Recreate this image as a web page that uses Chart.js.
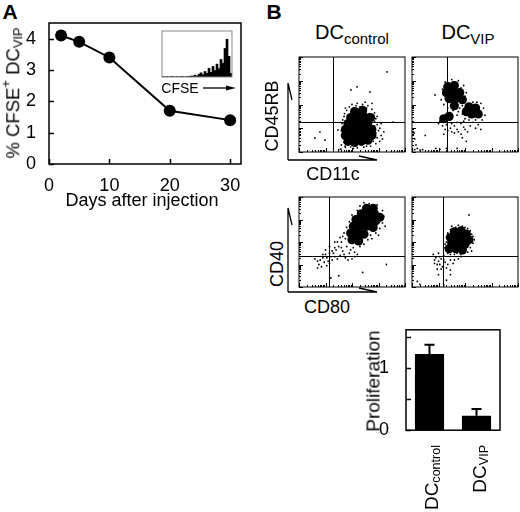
<!DOCTYPE html>
<html>
<head>
<meta charset="utf-8">
<script src="https://cdn.jsdelivr.net/npm/chart.js@4.4.1/dist/chart.umd.min.js"></script>
<style>
body { margin: 0; background: #fff; }
#fig { position: relative; width: 520px; height: 512px; overflow: hidden; font-family: 'Liberation Sans', Arial, Helvetica, sans-serif; color: #000; }
#fig canvas { position: absolute; }
.t { position: absolute; white-space: nowrap; line-height: 1; transform: translate(-50%, -50%); }
.v { position: absolute; white-space: nowrap; line-height: 1; writing-mode: vertical-rl; transform: translate(-50%, -50%) rotate(180deg); }
.vb { position: absolute; white-space: nowrap; line-height: 1; writing-mode: vertical-rl; transform: translate(-50%, 0) rotate(180deg); }
.lbl { font-weight: bold; font-size: 21px; }
sub, sup { line-height: 0; }
svg { position: absolute; left: 0; top: 0; }
</style>
</head>
<body>
<div id="fig">
  <div class="t lbl" style="left:10px;top:11px">A</div>
  <div class="t lbl" style="left:274px;top:11px">B</div>

  <canvas id="chartA" width="260" height="210" style="left:0;top:0"></canvas>
  <canvas id="chartInset" width="72" height="48" style="left:161px;top:30px"></canvas>
  <div class="v" style="left:14px;top:93px;font-size:18.5px">% CFSE<sup style="font-size:0.7em">+</sup> DC<sub style="font-size:0.7em">VIP</sub></div>
  <div class="t" style="left:142px;top:200px;font-size:18px">Days after injection</div>
  <div class="t" style="left:180px;top:88px;font-size:14px">CFSE</div>

  <div class="t" style="left:352px;top:32px;font-size:20px">DC<sub style="font-size:0.75em">control</sub></div>
  <div class="t" style="left:468px;top:32px;font-size:20px">DC<sub style="font-size:0.75em">VIP</sub></div>

  <canvas id="dotTL" width="108" height="97" style="left:298px;top:56px"></canvas>
  <canvas id="dotTR" width="108" height="97" style="left:411px;top:56px"></canvas>
  <canvas id="dotBL" width="108" height="92" style="left:298px;top:196px"></canvas>
  <canvas id="dotBR" width="108" height="92" style="left:411px;top:196px"></canvas>
  <div class="v" style="left:272px;top:116px;font-size:18px">CD45RB</div>
  <div class="t" style="left:333px;top:174px;font-size:18px">CD11c</div>
  <div class="v" style="left:277px;top:264px;font-size:18px">CD40</div>
  <div class="t" style="left:327px;top:307px;font-size:18px">CD80</div>

  <canvas id="chartBar" width="150" height="140" style="left:360px;top:310px"></canvas>
  <div class="v" style="left:373px;top:381px;font-size:19px">Proliferation</div>
  <div class="vb" style="left:431px;top:445px;font-size:19px">DC<sub style="font-size:0.66em">control</sub></div>
  <div class="vb" style="left:479px;top:445px;font-size:19px">DC<sub style="font-size:0.66em">VIP</sub></div>

  <svg width="520" height="512" viewBox="0 0 520 512">
    <g stroke="#000" stroke-width="1.3" fill="none">
      <path d="M288 160 V83 L292 100"/>
      <path d="M288 160 H377 L359 156"/>
      <path d="M288 292 V208 L292 225"/>
      <path d="M288 292 H377 L359 288"/>
      <path d="M203 88 H232"/>
    </g>
    <path d="M236 88 L226 85.5 L226 90.5 Z" fill="#000"/>
  </svg>
</div>

<script>
// ---- panel A: CFSE+ DC-VIP over time ----
const daysA = [2, 5, 10, 20, 30];
const cfsePct = [4.1, 3.9, 3.4, 1.7, 1.4];
const xTicksA = [0, 10, 20, 30];
const yTicksA = [0, 1, 2, 3, 4];

// inset histogram (CFSE dilution peaks), % of inset height
const cfseCounts = [1, 0, 1, 0, 1, 1, 0, 1, 0, 1, 1, 0, 1, 1, 2, 2, 4, 2, 6, 9, 5, 12, 8, 19, 10, 23, 14, 28, 18, 38, 30, 62, 82, 45, 8];

// ---- panel B: dot plots, log10 units (decades 0..4) ----
const gateCD45Ctrl = [1.28, 1.26];
const gateCD45Vip = [1.32, 1.26];
const gateCD40Ctrl = [1.12, 1.38];
const gateCD40Vip = [1.17, 1.38];

const cd45CtrlCore = [[1.85,0.45],[2.1,0.4],[2.35,0.45],[2.6,0.5],[1.75,0.7],[2.0,0.7],[2.25,0.7],[2.5,0.75],[2.75,0.7],
  [1.75,0.95],[2.0,0.95],[2.25,0.95],[2.5,1.0],[2.75,0.95],[1.85,1.2],[2.1,1.2],[2.35,1.25],[2.6,1.25],
  [1.95,1.45],[2.2,1.5],[2.45,1.5],[2.7,1.45],[2.1,1.7],[2.4,1.75]];
const cd45CtrlDots = [[1.6,0.3],[1.65,0.6],[1.6,0.9],[1.62,1.2],[1.7,1.5],[1.8,1.75],[1.9,1.9],[2.0,2.0],[2.2,2.05],[2.4,2.0],
  [2.6,1.95],[2.75,1.8],[2.85,1.65],[2.9,1.4],[2.95,1.15],[3.0,0.9],[3.1,0.7],[3.15,0.55],[2.9,0.35],[2.7,0.25],
  [2.45,0.2],[2.2,0.18],[1.95,0.22],[1.75,0.2],[2.3,1.9],[2.55,1.85],[2.85,1.1],[3.05,1.0],[2.95,0.6],[1.68,1.05],
  [1.7,0.4],[3.32,3.37],[2.19,2.74],[2.68,2.53],[1.96,2.61],[0.79,0.84],[0.6,0.59],[0.98,0.5],[1.74,0.25],[1.47,0.93],
  [3.55,1.26],[1.5,0.1],[1.58,0.12],[1.65,1.35],[1.72,1.62],[2.05,1.85],[2.5,1.7],[2.65,1.62],[2.85,1.3],[2.9,0.8],
  [3.05,0.45],[2.8,0.45],[2.55,0.25],[2.05,0.15],[1.85,0.3],[1.68,0.78],[2.95,1.5],[3.1,1.2],[2.75,2.05],[1.75,1.85],
  [2.15,1.95],[2.5,2.1],[3.2,0.85]];

const cd45VipCore = [[1.35,2.75],[1.6,2.8],[1.3,2.5],[1.55,2.5],[1.8,2.5],[1.4,2.25],[1.65,2.25],[1.9,2.2],
  [2.15,1.9],[2.4,1.85],[2.25,1.6],[2.5,1.6],[2.05,1.7],[1.6,1.95],[1.2,1.4],[1.4,1.5]];
const cd45VipDots = [[1.25,2.95],[1.5,3.05],[1.75,3.0],[1.95,2.8],[2.05,2.5],[1.15,2.65],[1.1,2.2],[1.2,2.0],[1.35,1.85],[1.8,1.85],
  [1.9,1.6],[1.7,1.55],[2.0,2.15],[2.3,2.1],[2.6,2.05],[2.7,1.85],[2.75,1.55],[2.65,1.35],[2.4,1.35],[2.15,1.35],
  [1.95,1.3],[1.7,1.25],[1.5,1.2],[1.3,1.15],[1.15,1.1],[1.05,1.3],[1.45,1.0],[1.7,0.95],[1.95,1.05],[2.2,1.1],
  [2.5,1.15],[1.6,0.8],[1.85,0.75],[2.1,0.85],[1.35,0.9],[2.6,0.95],[1.0,1.2],[0.87,2.4],[0.1,0.1],[0.2,0.15],
  [0.3,0.08],[0.15,0.3],[0.1,0.55],[0.08,0.8],[0.5,0.7],[0.9,0.15],[1.05,0.12],[1.3,0.15],[1.7,0.15],[0.4,0.1],[2.05,0.45],
  [1.55,2.95],[1.2,2.4],[1.85,2.7],[2.0,2.35],[1.55,1.75],[1.75,1.7],[1.9,1.95],[2.1,2.0],[2.45,2.1],[2.55,1.75],
  [2.35,1.5],[2.0,1.4],[1.85,1.2],[1.6,1.1],[1.3,1.3],[1.1,1.5],[1.45,1.35],[2.3,1.25],[2.4,1.0],[1.25,0.95],
  [1.5,0.85],[1.75,0.85],[2.0,0.95],[1.9,0.6],[1.2,0.75]];

const cd40CtrlCore = [[2.55,3.5],[2.8,3.5],[2.35,3.25],[2.6,3.25],[2.85,3.25],[3.05,3.1],[2.15,3.0],[2.4,3.0],[2.65,3.0],
  [2.9,2.95],[2.05,2.7],[2.3,2.7],[2.55,2.7],[2.8,2.65],[1.95,2.4],[2.2,2.4],[2.45,2.35],[2.0,2.1],[2.25,2.05]];
const cd40CtrlDots = [[2.3,3.6],[2.65,3.7],[2.95,3.65],[3.15,3.4],[3.2,3.15],[3.15,2.85],[3.05,2.6],[2.9,2.4],[2.7,2.3],[2.6,2.1],
  [2.45,1.9],[2.3,1.8],[2.0,3.2],[1.9,2.9],[1.8,2.65],[1.7,2.4],[1.75,2.15],[1.6,2.0],[1.5,1.8],[1.8,1.8],
  [2.05,1.75],[1.65,1.6],[1.4,1.65],[1.3,1.5],[1.9,1.5],[1.55,1.4],[1.2,1.35],[1.0,1.45],[0.9,1.3],[0.8,1.2],
  [0.95,1.1],[1.1,1.15],[0.75,1.0],[0.85,0.9],[1.05,0.95],[1.25,1.2],[1.45,1.25],[2.0,1.25],[2.2,1.45],[1.75,1.3],
  [1.0,1.65],[1.15,1.8],[1.35,2.0],[1.55,2.2],[2.1,1.55],[1.5,0.5],[2.4,0.65],[1.2,0.4],[3.3,1.0],[0.6,1.25],[0.7,0.85],
  [2.45,3.75],[2.2,3.4],[2.05,3.05],[1.85,2.5],[1.95,2.25],[1.65,2.25],[1.45,2.0],[1.6,1.75],[1.35,1.75],[1.25,1.6],
  [1.15,1.5],[1.05,1.3],[0.9,1.45],[0.7,1.15],[1.15,1.05],[1.35,1.35],[1.7,1.45],[1.95,1.65],[2.35,2.0],[2.75,2.15],
  [3.0,2.3],[3.25,2.7],[2.1,1.35],[1.85,1.2]];

const cd40VipCore = [[1.6,2.45],[1.85,2.5],[2.05,2.35],[1.45,2.2],[1.7,2.2],[1.95,2.2],[2.15,2.1],[1.5,1.95],[1.75,1.95],
  [2.0,1.9],[1.4,1.7],[1.65,1.7],[1.9,1.65]];
const cd40VipDots = [[1.5,2.7],[1.75,2.75],[2.0,2.65],[2.2,2.5],[2.3,2.25],[2.3,1.95],[2.2,1.75],[2.1,1.55],[1.85,1.45],[1.6,1.45],
  [1.35,1.5],[1.25,1.75],[1.3,2.0],[1.35,2.4],[1.2,1.4],[1.1,1.25],[1.0,1.15],[0.9,1.3],[0.85,1.05],[1.05,1.0],
  [1.25,1.1],[1.45,1.2],[1.15,0.9],[0.95,0.8],[1.3,0.85],[1.6,1.2],[1.75,1.25],[0.8,1.45],[1.0,1.5],[2.15,3.2],
  [0.2,0.25],[1.2,0.1],[1.3,0.3],[1.0,0.55],[1.45,0.55],[0.3,0.12],
  [1.45,2.55],[1.65,2.65],[1.9,2.7],[2.1,2.6],[2.25,2.35],[2.35,2.1],[2.25,1.6],[1.95,1.5],[1.7,1.5],[1.45,1.45],
  [1.3,1.6],[1.25,1.9],[1.3,2.2],[1.2,1.2],[1.05,1.35],[0.95,1.0],[1.1,0.8],[1.35,1.0],[1.55,1.05],[1.85,1.35],
  [0.85,1.2],[1.45,0.75]];

// ---- panel B: proliferation bars ----
const barCategories = ['DCcontrol', 'DCVIP'];
const barValues = [1.22, 0.23];
const barErrors = [0.15, 0.11];
const barTickValues = [0, 0.5, 1, 1.5];
const barTickLabels = ['0', '', '1', ''];

const FONT = "'Liberation Sans', Arial, Helvetica, sans-serif";

// 画图区外框
const boxPlugin = {
  id: 'box',
  afterDraw(chart, args, opts) {
    const { ctx, chartArea: a } = chart;
    ctx.save();
    ctx.strokeStyle = opts.color || '#000';
    ctx.lineWidth = opts.width || 1;
    ctx.strokeRect(a.left, a.top, a.right - a.left, a.bottom - a.top);
    ctx.restore();
  }
};

// 向内的刻度线
const innerTicks = {
  id: 'innerTicks',
  afterDraw(chart, args, opts) {
    const { ctx, chartArea: a } = chart;
    ctx.save();
    ctx.strokeStyle = '#000';
    ctx.lineWidth = opts.width || 1;
    (opts.axes || ['x', 'y']).forEach(id => {
      const s = chart.scales[id];
      s.ticks.forEach(t => {
        const len = t.minor ? opts.minor : opts.major;
        const p = Math.round(s.getPixelForValue(t.value)) + 0.5;
        ctx.beginPath();
        if (id === 'x') { ctx.moveTo(p, a.bottom); ctx.lineTo(p, a.bottom - len); }
        else { ctx.moveTo(a.left, p); ctx.lineTo(a.left + len, p); }
        ctx.stroke();
      });
    });
    ctx.restore();
  }
};

// 象限门
const gatePlugin = {
  id: 'gate',
  afterDatasetsDraw(chart, args, opts) {
    const { ctx, chartArea: a, scales } = chart;
    const gx = Math.round(scales.x.getPixelForValue(opts.x)) + 0.5;
    const gy = Math.round(scales.y.getPixelForValue(opts.y)) + 0.5;
    ctx.save();
    ctx.strokeStyle = '#000';
    ctx.lineWidth = 1;
    ctx.beginPath();
    ctx.moveTo(gx, a.top); ctx.lineTo(gx, a.bottom);
    ctx.moveTo(a.left, gy); ctx.lineTo(a.right, gy);
    ctx.stroke();
    ctx.restore();
  }
};

// 误差线（只画上半）
const errorBars = {
  id: 'errorBars',
  afterDatasetsDraw(chart, args, opts) {
    const { ctx } = chart;
    const ys = chart.scales.y;
    const meta = chart.getDatasetMeta(0);
    ctx.save();
    ctx.strokeStyle = '#000';
    ctx.lineWidth = 2;
    meta.data.forEach((bar, i) => {
      const v = chart.data.datasets[0].data[i];
      const top = ys.getPixelForValue(v + opts.errors[i]);
      ctx.beginPath();
      ctx.moveTo(bar.x, bar.y);
      ctx.lineTo(bar.x, top);
      ctx.moveTo(bar.x - opts.cap / 2, top);
      ctx.lineTo(bar.x + opts.cap / 2, top);
      ctx.stroke();
    });
    ctx.restore();
  }
};

const fixedSize = (size) => (scale) => {
  if (scale.isHorizontal()) scale.height = size; else scale.width = size;
};

// panel A
new Chart(document.getElementById('chartA'), {
  type: 'scatter',
  data: {
    datasets: [{
      data: daysA.map((d, i) => ({ x: d, y: cfsePct[i] })),
      showLine: true,
      borderColor: '#000',
      borderWidth: 2,
      pointRadius: 6,
      pointBackgroundColor: '#000',
      pointBorderWidth: 0
    }]
  },
  options: {
    responsive: false,
    animation: false,
    layout: { padding: { top: 23, right: 19, left: 0, bottom: 0 }, autoPadding: false },
    plugins: { legend: { display: false }, tooltip: { enabled: false }, box: { width: 1.5 }, innerTicks: { major: 5, minor: 3, width: 1.5 } },
    scales: {
      x: {
        min: 0, max: 31.8,
        afterBuildTicks: s => { s.ticks = xTicksA.map(v => ({ value: v })); },
        afterFit: fixedSize(46),
        grid: { display: false }, border: { display: false },
        ticks: { color: '#000', padding: 3, maxRotation: 0, font: { family: FONT, size: 18 } }
      },
      y: {
        min: 0, max: 4.5,
        afterBuildTicks: s => { s.ticks = yTicksA.map(v => ({ value: v })); },
        afterFit: fixedSize(49),
        grid: { display: false }, border: { display: false },
        ticks: { color: '#000', padding: 5, font: { family: FONT, size: 18 } }
      }
    }
  },
  plugins: [boxPlugin, innerTicks]
});

// inset histogram
new Chart(document.getElementById('chartInset'), {
  type: 'bar',
  data: {
    labels: cfseCounts.map((_, i) => i),
    datasets: [{ data: cfseCounts, backgroundColor: '#000', barPercentage: 1, categoryPercentage: 1, borderWidth: 0 }]
  },
  options: {
    responsive: false,
    animation: false,
    layout: { padding: 1, autoPadding: false },
    plugins: { legend: { display: false }, tooltip: { enabled: false }, box: { color: '#888', width: 1 } },
    scales: {
      x: { display: false },
      y: { display: false, min: 0, max: 100 }
    }
  },
  plugins: [boxPlugin]
});

// dot plots
const decadeTicks = [];
for (let d = 0; d < 4; d++) {
  for (let k = 1; k <= 9; k++) decadeTicks.push({ value: d + Math.log10(k), minor: k !== 1 });
}
decadeTicks.push({ value: 4, minor: false });

function dotPlot(id, core, dots, gate) {
  const axis = {
    min: 0, max: 4,
    afterBuildTicks: s => { s.ticks = decadeTicks.map(t => ({ ...t })); },
    afterFit: fixedSize(0),
    grid: { display: false }, border: { display: false },
    ticks: { display: false }
  };
  return new Chart(document.getElementById(id), {
    type: 'scatter',
    data: {
      datasets: [
        { data: core.map(p => ({ x: p[0], y: p[1] })), pointRadius: 4.6, pointBorderWidth: 0, pointBackgroundColor: '#000' },
        { data: dots.map(p => ({ x: p[0], y: p[1] })), pointRadius: 0.9, pointBorderWidth: 0, pointBackgroundColor: '#000' }
      ]
    },
    options: {
      responsive: false,
      animation: false,
      layout: { padding: 1, autoPadding: false },
      plugins: {
        legend: { display: false }, tooltip: { enabled: false },
        box: { width: 1 }, innerTicks: { major: 4, minor: 2, width: 1 },
        gate: { x: gate[0], y: gate[1] }
      },
      scales: { x: { ...axis }, y: { ...axis } }
    },
    plugins: [boxPlugin, innerTicks, gatePlugin]
  });
}

dotPlot('dotTL', cd45CtrlCore, cd45CtrlDots, gateCD45Ctrl);
dotPlot('dotTR', cd45VipCore, cd45VipDots, gateCD45Vip);
dotPlot('dotBL', cd40CtrlCore, cd40CtrlDots, gateCD40Ctrl);
dotPlot('dotBR', cd40VipCore, cd40VipDots, gateCD40Vip);

// proliferation bars
new Chart(document.getElementById('chartBar'), {
  type: 'bar',
  data: {
    labels: barCategories,
    datasets: [{ data: barValues, backgroundColor: '#000', barPercentage: 0.62, categoryPercentage: 1, borderWidth: 0 }]
  },
  options: {
    responsive: false,
    animation: false,
    layout: { padding: { top: 16, right: 10, left: 0, bottom: 0 }, autoPadding: false },
    plugins: {
      legend: { display: false }, tooltip: { enabled: false },
      box: { width: 1.5 }, innerTicks: { axes: ['y'], major: 5, minor: 5, width: 1.5 },
      errorBars: { errors: barErrors, cap: 10 }
    },
    scales: {
      x: {
        afterFit: fixedSize(11),
        grid: { display: false }, border: { display: false },
        ticks: { display: false }
      },
      y: {
        min: 0, max: 1.61,
        afterBuildTicks: s => { s.ticks = barTickValues.map(v => ({ value: v })); },
        afterFit: fixedSize(46),
        grid: { display: false }, border: { display: false },
        ticks: { color: '#000', padding: 9, font: { family: FONT, size: 18 }, callback: (v, i) => barTickLabels[i] }
      }
    }
  },
  plugins: [boxPlugin, innerTicks, errorBars]
});
</script>
</body>
</html>
